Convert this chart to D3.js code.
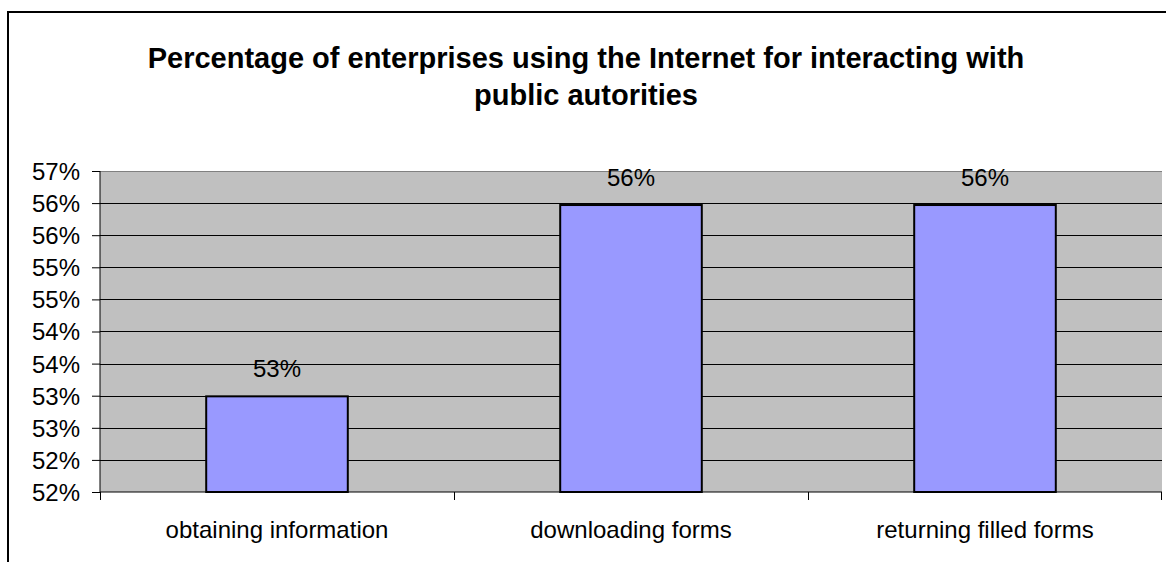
<!DOCTYPE html>
<html>
<head>
<meta charset="utf-8">
<script src="https://cdn.jsdelivr.net/npm/d3@7"></script>
<style>
  body { margin: 0; background: #fff; }
  svg { display: block; font-family: "Liberation Sans", Arial, sans-serif; }
</style>
</head>
<body>
<script>
// データ
var categories = ["obtaining information", "downloading forms", "returning filled forms"];
var values = [0.5349, 0.5647, 0.5647];
var tickValues = [0.52, 0.525, 0.53, 0.535, 0.54, 0.545, 0.55, 0.555, 0.56, 0.565, 0.57];
var tickLabels = ["52%", "52%", "53%", "53%", "54%", "54%", "55%", "55%", "56%", "56%", "57%"];
var titleLines = ["Percentage of enterprises using the Internet for interacting with", "public autorities"];

var width = 1166, height = 562;
var plot = { left: 100, top: 171, right: 1162, bottom: 492 };

var svg = d3.select("body").append("svg")
	.attr("width", width)
	.attr("height", height);

// 外枠
svg.append("path")
	.attr("d", "M8," + (height + 2) + "V12H" + (width + 2))
	.attr("fill", "none")
	.attr("stroke", "#000")
	.attr("stroke-width", 2);

// タイトル
svg.append("g").selectAll("text")
	.data(titleLines)
	.enter().append("text")
	.attr("x", 586)
	.attr("y", function(d, i){ return 68 + i * 37; })
	.attr("text-anchor", "middle")
	.style("font-size", "29px")
	.style("font-weight", "bold")
	.text(function(d){ return d; });

var x = d3.scaleBand()
	.domain(categories)
	.range([plot.left, plot.right])
	.paddingInner(0.6)
	.paddingOuter(0.3);

var xb = d3.scaleBand()
	.domain(categories)
	.range([plot.left, plot.right]);

var y = d3.scaleLinear()
	.domain([0.52, 0.57])
	.range([plot.bottom, plot.top]);

// プロット領域
svg.append("rect")
	.attr("x", plot.left)
	.attr("y", plot.top)
	.attr("width", plot.right - plot.left)
	.attr("height", plot.bottom - plot.top)
	.attr("fill", "#c0c0c0");

// グリッド線
svg.append("g").selectAll("line")
	.data(tickValues.slice(1))
	.enter().append("line")
	.attr("x1", plot.left)
	.attr("x2", plot.right)
	.attr("y1", function(d){ return Math.round(y(d)) + 0.5; })
	.attr("y2", function(d){ return Math.round(y(d)) + 0.5; })
	.attr("stroke", function(d, i){ return i === tickValues.length - 2 ? "#808080" : "#000"; })
	.attr("stroke-width", 1);

// Y軸
var yAxis = svg.append("g")
	.attr("transform", "translate(" + plot.left + ",0)")
	.call(d3.axisLeft(y)
		.tickValues(tickValues)
		.tickSize(8)
		.tickFormat(function(d, i){ return tickLabels[i]; }));
yAxis.selectAll("text").style("font-size", "24px").attr("fill", "#000").attr("x", -20).attr("dy", "0.35em");
yAxis.select(".domain").attr("d", "M0," + plot.top + "V" + plot.bottom);

// X軸
var xAxis = svg.append("g")
	.attr("transform", "translate(0," + plot.bottom + ")");
xAxis.append("line")
	.attr("x1", plot.left).attr("x2", plot.right)
	.attr("stroke", "#000");
xAxis.selectAll(".tk")
	.data(categories.concat(["end"]))
	.enter().append("line")
	.attr("class", "tk")
	.attr("x1", function(d, i){ return i < categories.length ? xb(d) + 0.5 : plot.right - 0.5; })
	.attr("x2", function(d, i){ return i < categories.length ? xb(d) + 0.5 : plot.right - 0.5; })
	.attr("y1", 0).attr("y2", 8)
	.attr("stroke", "#000");
xAxis.selectAll("text")
	.data(categories)
	.enter().append("text")
	.attr("x", function(d){ return xb(d) + xb.bandwidth() / 2; })
	.attr("y", 46)
	.attr("text-anchor", "middle")
	.style("font-size", "24px")
	.text(function(d){ return d; });

// 棒
svg.append("g").selectAll("rect")
	.data(values)
	.enter().append("rect")
	.attr("x", function(d, i){ return x(categories[i]); })
	.attr("y", function(d){ return y(d); })
	.attr("width", x.bandwidth())
	.attr("height", function(d){ return plot.bottom - y(d); })
	.attr("fill", "#9999ff")
	.attr("stroke", "#000")
	.attr("stroke-width", 2);

// データラベル
svg.append("g").selectAll("text")
	.data(values)
	.enter().append("text")
	.attr("x", function(d, i){ return x(categories[i]) + x.bandwidth() / 2; })
	.attr("y", function(d){ return y(d) - 19; })
	.attr("text-anchor", "middle")
	.style("font-size", "24px")
	.text(function(d){ return d3.format(".0%")(d); });
</script>
</body>
</html>
